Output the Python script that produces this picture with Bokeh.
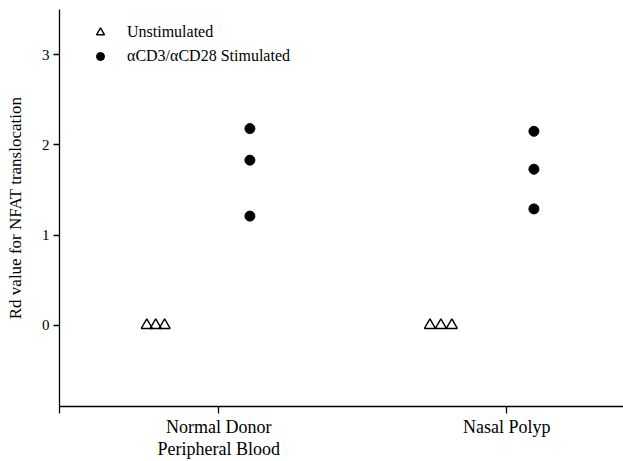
from bokeh.plotting import figure
from bokeh.models import Range1d, FixedTicker, Legend, LegendItem
from bokeh.embed import file_html
from bokeh.resources import INLINE

# Groups on the x axis
groups = ["Normal Donor\nPeripheral Blood", "Nasal Polyp"]
group_pos = [1, 2]

# Rd values for NFAT translocation
unstim_values = [[0.0, 0.0, 0.0], [0.0, 0.0, 0.0]]
stim_values = [[2.18, 1.83, 1.21], [2.15, 1.73, 1.29]]

# Horizontal placement of each series within a group
unstim_offsets = [[-0.25, -0.219, -0.188], [-0.267, -0.229, -0.191]]
stim_offsets = [[0.108, 0.108, 0.108], [0.094, 0.094, 0.094]]

FONT = "Liberation Serif"
Y_MIN, Y_MAX = -0.9, 3.5
X_MIN, X_MAX = 0.447, 2.405

ux, uy, sx, sy = [], [], [], []
for g, pos in enumerate(group_pos):
    ux += [pos + o for o in unstim_offsets[g]]
    uy += unstim_values[g]
    sx += [pos + o for o in stim_offsets[g]]
    sy += stim_values[g]

p = figure(width=623, height=461, output_backend="svg", toolbar_location=None,
           x_range=Range1d(X_MIN, X_MAX), y_range=Range1d(Y_MIN, Y_MAX),
           min_border_left=59, min_border_right=0, min_border_top=9, min_border_bottom=52)
p.outline_line_color = None
p.xgrid.visible = False
p.ygrid.visible = False

r_un = p.scatter(ux, uy, marker="triangle", size=11, fill_color=None,
                 line_color="black", line_width=1.4)
r_st = p.scatter(sx, sy, marker="circle", size=10, fill_color="black",
                 line_color="black")

# y axis
p.yaxis.ticker = FixedTicker(ticks=[0, 1, 2, 3])
p.yaxis.minor_tick_line_color = None
p.yaxis.major_tick_in = 0
p.yaxis.major_tick_out = 6
p.yaxis.axis_label = "Rd value for NFAT translocation"
p.yaxis.axis_label_text_font = FONT
p.yaxis.axis_label_text_font_style = "normal"
p.yaxis.axis_label_text_font_size = "17px"
p.yaxis.axis_label_text_color = "black"
p.yaxis.axis_label_standoff = 14
p.yaxis.major_label_text_font = FONT
p.yaxis.major_label_text_font_size = "15px"
p.yaxis.major_label_text_color = "black"
p.yaxis.major_label_standoff = 4
p.yaxis.axis_line_width = 1.3
p.yaxis.major_tick_line_width = 1.3

# x axis: a tick at each group, plus an unlabeled one where the axis starts
p.xaxis.ticker = FixedTicker(ticks=group_pos, minor_ticks=[X_MIN])
p.xaxis.major_label_overrides = {pos: name for pos, name in zip(group_pos, groups)}
p.xaxis.major_label_text_font = FONT
p.xaxis.major_label_text_font_size = "18px"
p.xaxis.major_label_text_line_height = 1.1
p.xaxis.major_label_text_color = "black"
p.xaxis.major_label_standoff = 3
p.xaxis.major_tick_in = 0
p.xaxis.major_tick_out = 7
p.xaxis.minor_tick_in = 0
p.xaxis.minor_tick_out = 7
p.xaxis.axis_line_width = 1.3
p.xaxis.major_tick_line_width = 1.3
p.xaxis.minor_tick_line_width = 1.3

legend = Legend(items=[LegendItem(label="Unstimulated", renderers=[r_un]),
                       LegendItem(label="\u03b1CD3/\u03b1CD28 Stimulated", renderers=[r_st])],
                location=(31, 340), orientation="vertical",
                border_line_color=None, background_fill_alpha=0,
                padding=0, margin=0, spacing=4,
                glyph_width=20, glyph_height=20, label_standoff=17,
                label_text_font=FONT, label_text_font_size="16px",
                label_text_color="black", label_height=20)
p.add_layout(legend)

open("out.html", "w").write(file_html(p, INLINE))
